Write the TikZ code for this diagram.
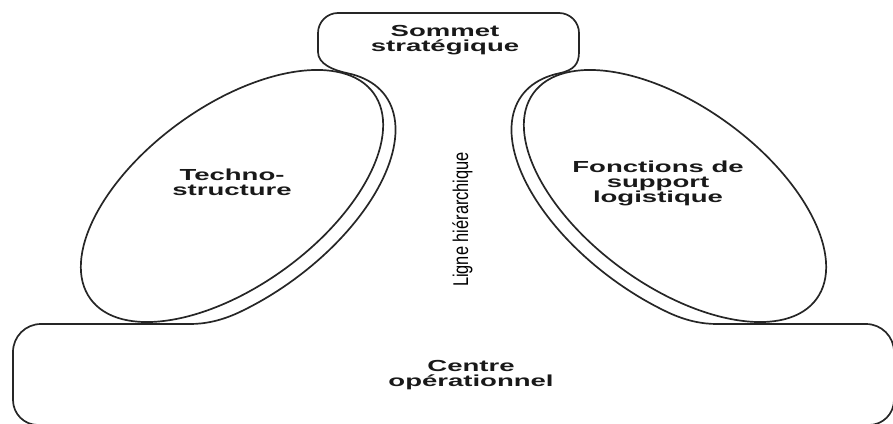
\documentclass[tikz,border=0pt]{standalone}
\usepackage{fontspec}
\setmainfont{Liberation Sans}
\newfontfamily\labelfont[FakeStretch=1.72]{Liberation Sans Bold}
\begin{document}
\begin{tikzpicture}[x=1pt, y=-1pt,
  outline/.style={draw=black!85, line width=1.7pt, line join=round},
  lbl/.style={font=\labelfont\fontsize{16}{15}\selectfont, align=center, inner sep=0pt, text=black!90},
]
\useasboundingbox (0,0) rectangle (893,423);

% outer contour: apex box, the two flanks of the middle line, operating core
\draw[outline]
  (318,52) -- (318,33) .. controls (318,22) and (327,13) .. (338,13)
  -- (559,13) .. controls (570,13) and (579,22) .. (579,33)
  -- (579,52) .. controls (579,64) and (573.9,70.2) .. (559.2,73.3)
  -- plot[domain=-25:110, samples=60] ({669.7-148.05*cos(\x)-55.86*sin(\x)}, {203.3-107.6*cos(\x)+76.86*sin(\x)})
  .. controls (686,320.8) and (702,324) .. (717,324)
  -- (866,324) .. controls (881.5,324) and (894,336.5) .. (894,352)
  -- (894,400) .. controls (894,413.8) and (882.8,425) .. (869,425)
  -- (38,425) .. controls (24.2,425) and (13,413.8) .. (13,400)
  -- (13,352) .. controls (13,336.5) and (25.5,324) .. (41,324)
  -- (190,324) .. controls (205,324) and (221,320.8) .. (239.2,312.3)
  -- plot[domain=110:-25, samples=60] ({237.3+148.05*cos(\x)+55.86*sin(\x)}, {203.3-107.6*cos(\x)+76.86*sin(\x)})
  .. controls (333.1,70.2) and (318,64) .. (318,52) -- cycle;

% the two staff ellipses
\draw[outline, rotate around={36:(232,196)}] (232,196) ellipse [x radius=175, y radius=90];
\draw[outline, rotate around={-36:(675,196)}] (675,196) ellipse [x radius=175, y radius=90];

% labels
\node[lbl] (sommet) at (445,40) {Sommet\\stratégique};
\node[lbl] (techno) at (232,182) {Techno-\\structure};
\node[lbl] (support) at (658,183) {Fonctions de\\support\\logistique};
\node[lbl] (centre) at (471,375) {Centre\\opérationnel};
\node[inner sep=0pt, text=black] (ligne) at (462.5,219.5)
  {\fontsize{16.4}{16}\selectfont\scalebox{1.3}[1]{\rotatebox{90}{Ligne hiérarchique}}};
\end{tikzpicture}
\end{document}
